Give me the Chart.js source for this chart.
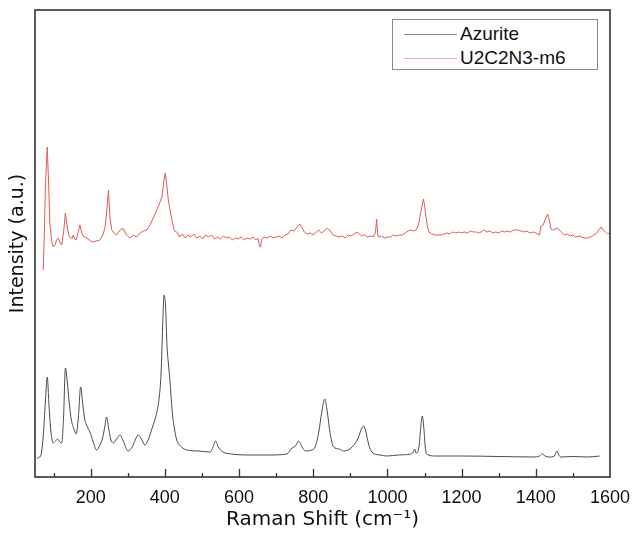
<!DOCTYPE html>
<html>
<head>
<meta charset="utf-8">
<script src="https://cdn.jsdelivr.net/npm/chart.js@4.4.1/dist/chart.umd.min.js"></script>
<style>
    html, body { margin: 0; padding: 0; background: #fff; }
    #wrap { position: relative; width: 632px; height: 535px; }
    #legendBox {
        position: absolute; left: 392px; top: 19px; width: 204px; height: 49px;
        border: 1px solid #8a8a8a; background: #fff;
        font-family: "Liberation Sans", Arial, sans-serif; font-size: 19px; color: #111;
    }
    .legendRow { position: absolute; left: 0; height: 24px; line-height: 24px; }
    .legendRow span.swatch { position: absolute; left: 11px; top: 12px; width: 53px; height: 1px; }
    .legendRow span.label { position: absolute; left: 67px; top: 0; white-space: nowrap; }
</style>
</head>
<body>
<div id="wrap">
    <canvas id="ramanChart" width="632" height="535"></canvas>
    <div id="legendBox"></div>
</div>
<script>
// --- Data (arbitrary intensity units) ---
const azuriteShift = [55, 65, 72, 78, 83, 88, 93, 99, 105, 111, 117, 122, 127, 132, 137, 142, 148, 155, 161, 167,
    173, 179, 184, 189, 198, 207, 216, 225, 232, 238, 243, 248, 254, 261, 270, 279, 288, 301, 312, 320,
    328, 337, 346, 356, 365, 372, 378, 385, 390, 394, 398, 402, 406, 410, 414, 420, 426, 432, 445, 459,
    490, 522, 530, 537, 544, 557, 580, 621, 680, 729, 743, 752, 761, 770, 779, 795, 805, 815, 823, 831,
    838, 845, 855, 870, 882, 905, 920, 930, 936, 942, 950, 958, 980, 998, 1030, 1062, 1070, 1073, 1078, 1085,
    1090, 1094, 1098, 1102, 1106, 1130, 1200, 1300, 1394, 1410, 1417, 1425, 1435, 1450, 1457, 1462, 1468, 1500, 1540, 1572];
const azuriteIntensity = [19, 21, 40, 75, 100, 70, 45, 34, 36, 38, 35, 34, 60, 109, 95, 75, 57, 48, 43, 60,
    90, 72, 58, 52, 45, 35, 27, 32, 39, 50, 60, 50, 38, 34, 38, 42, 36, 26, 30, 37,
    42, 38, 32, 38, 48, 56, 64, 80, 105, 150, 182, 170, 130, 112, 95, 65, 48, 37, 30, 27,
    26, 25, 30, 36, 30, 25, 23, 22, 22, 23, 29, 31, 36, 30, 26, 27, 30, 45, 65, 78,
    65, 45, 30, 28, 26, 30, 38, 48, 51, 45, 32, 25, 22, 21, 22, 23, 25, 28, 24, 30,
    50, 61, 50, 30, 23, 21, 21, 20.5, 20, 21, 23, 21, 20, 21, 26, 22, 20, 20.5, 20, 21];

const u2Shift = [72, 75, 78, 83, 87, 90, 95, 99, 104, 108, 113, 118, 122, 127, 132, 137, 141, 144, 149, 153,
    157, 161, 166, 171, 176, 180, 190, 200, 207, 215, 225, 233, 239, 244, 248, 252, 257, 263, 270, 277,
    283, 289, 295, 300, 306, 315, 324, 333, 342, 351, 360, 370, 378, 385, 392, 397, 401, 405, 409, 414,
    420, 426, 432, 440, 447, 455, 462, 470, 478, 486, 494, 502, 510, 518, 526, 534, 542, 550, 558, 566,
    574, 582, 590, 598, 606, 614, 622, 630, 638, 646, 651, 655, 658, 661, 668, 676, 684, 692, 700, 708,
    716, 724, 732, 740, 748, 756, 764, 770, 776, 784, 792, 800, 808, 815, 822, 830, 838, 846, 854, 862,
    870, 878, 886, 894, 902, 910, 918, 924, 930, 938, 946, 954, 962, 968, 971, 974, 977, 984, 992, 1000,
    1008, 1016, 1024, 1032, 1040, 1048, 1056, 1063, 1070, 1077, 1084, 1090, 1094, 1097, 1100, 1104, 1108, 1112, 1120, 1128,
    1136, 1144, 1152, 1160, 1168, 1176, 1184, 1192, 1200, 1208, 1216, 1224, 1232, 1240, 1248, 1256, 1260, 1268, 1276, 1284,
    1292, 1300, 1308, 1316, 1324, 1332, 1340, 1351, 1360, 1368, 1376, 1384, 1392, 1400, 1406, 1410, 1414, 1420, 1426, 1432,
    1437, 1441, 1445, 1452, 1459, 1466, 1472, 1477, 1485, 1493, 1500, 1508, 1516, 1524, 1532, 1540, 1548, 1556, 1564, 1570,
    1576, 1582, 1588, 1594, 1600];
const u2Intensity = [207, 240, 290, 330, 290, 254, 236, 230, 232, 237, 239, 234, 232, 245, 264, 250, 242, 240, 238, 242,
    238, 237, 244, 252, 244, 241, 239, 236, 235, 236, 237, 242, 250, 268, 287, 260, 247, 244, 242, 246,
    248, 248, 243, 241, 239, 242, 240, 244, 246, 247, 252, 260, 267, 273, 280, 295, 304, 293, 278, 267,
    255, 246, 245, 240, 243, 239, 242, 240, 243, 239, 241, 238, 242, 240, 242, 238, 240, 238, 241, 239,
    240, 237, 239, 238, 240, 237, 239, 238, 240, 237, 239, 231, 230, 238, 240, 239, 241, 239, 240, 241,
    239, 242, 243, 247, 246, 250, 253, 249, 245, 243, 244, 242, 245, 247, 244, 246, 249, 246, 242, 241,
    240, 241, 239, 242, 241, 243, 245, 243, 241, 242, 240, 241, 240, 245, 258, 242, 240, 241, 239, 240,
    240, 242, 241, 242, 242, 244, 246, 247, 246, 247, 252, 265, 272, 278, 272, 260, 250, 245, 243, 242,
    242, 242, 243, 244, 243, 245, 244, 245, 244, 245, 244, 246, 245, 245, 244, 246, 247, 245, 246, 244,
    245, 244, 246, 245, 246, 245, 247, 247, 246, 245, 246, 244, 245, 244, 243, 242, 251, 252, 258, 263,
    256, 248, 247, 248, 249, 246, 244, 242, 243, 241, 242, 240, 241, 240, 239, 239, 240, 242, 244, 247,
    250, 247, 245, 243, 244];

const xTickStep = 200;
const seriesNames = ['Azurite', 'U2C2N3-m6'];
const seriesColors = ['#4a4a4a', '#e05a5a'];
const legendSwatchColors = ['#8c8c8c', '#f2a6a6'];

function toPoints(xs, ys) {
    return xs.map((x, i) => ({ x: x, y: ys[i] }));
}

// frame round the plot plus inward ticks on the bottom axis
const framePlugin = {
    id: 'frame',
    afterDraw(chart) {
        const { ctx, chartArea } = chart;
        const xScale = chart.scales.x;
        ctx.save();
        ctx.strokeStyle = '#333';
        ctx.lineWidth = 1.6;
        ctx.strokeRect(chartArea.left, chartArea.top, chartArea.right - chartArea.left, chartArea.bottom - chartArea.top);
        ctx.lineWidth = 1.3;
        for (let v = 100; v < 1600; v += 100) {
            const px = Math.round(xScale.getPixelForValue(v)) + 0.5;
            const len = v % 200 === 0 ? 8 : 4;
            ctx.beginPath();
            ctx.moveTo(px, chartArea.bottom);
            ctx.lineTo(px, chartArea.bottom - len);
            ctx.stroke();
        }
        ctx.restore();
    }
};

const ctx = document.getElementById('ramanChart').getContext('2d');
new Chart(ctx, {
    type: 'line',
    data: {
        datasets: [{
            label: seriesNames[0],
            data: toPoints(azuriteShift, azuriteIntensity),
            borderColor: seriesColors[0],
            borderWidth: 1,
            pointRadius: 0,
            cubicInterpolationMode: 'monotone'
        }, {
            label: seriesNames[1],
            data: toPoints(u2Shift, u2Intensity),
            borderColor: seriesColors[1],
            borderWidth: 1,
            pointRadius: 0,
            tension: 0
        }]
    },
    options: {
        responsive: false,
        animation: false,
        layout: { padding: { top: 10, right: 22, left: 0, bottom: 0 } },
        plugins: {
            legend: { display: false },
            tooltip: { enabled: false }
        },
        scales: {
            x: {
                type: 'linear',
                min: 50,
                max: 1600,
                grid: { display: false },
                border: { display: false },
                ticks: {
                    stepSize: xTickStep,
                    padding: 2,
                    color: '#111',
                    maxRotation: 0,
                    autoSkip: false,
                    font: { family: '"Liberation Sans", Arial, sans-serif', size: 18 },
                    callback: function (value) {
                        return value % xTickStep === 0 ? value : '';
                    }
                },
                title: {
                    display: true,
                    text: 'Raman Shift (cm\u207B\u00B9)',
                    color: '#111',
                    font: { family: '"DejaVu Sans", Verdana, sans-serif', size: 20 },
                    padding: { top: 0, bottom: 3 }
                },
                afterFit: function (scale) { scale.height = 58; }
            },
            y: {
                min: 0,
                max: 467,
                grid: { display: false },
                border: { display: false },
                ticks: { display: false },
                title: {
                    display: true,
                    text: 'Intensity (a.u.)',
                    color: '#111',
                    font: { family: '"DejaVu Sans", Verdana, sans-serif', size: 19 },
                    padding: { top: 7, bottom: 0 }
                },
                afterFit: function (scale) { scale.width = 35; }
            }
        }
    },
    plugins: [framePlugin]
});

// legend drawn inside the plot, top right
const legendBox = document.getElementById('legendBox');
seriesNames.forEach((name, i) => {
    const row = document.createElement('div');
    row.className = 'legendRow';
    row.style.top = (2 + i * 24) + 'px';
    row.style.width = '200px';
    const sw = document.createElement('span');
    sw.className = 'swatch';
    sw.style.background = legendSwatchColors[i];
    const lb = document.createElement('span');
    lb.className = 'label';
    lb.textContent = name;
    row.appendChild(sw);
    row.appendChild(lb);
    legendBox.appendChild(row);
});
</script>
</body>
</html>
